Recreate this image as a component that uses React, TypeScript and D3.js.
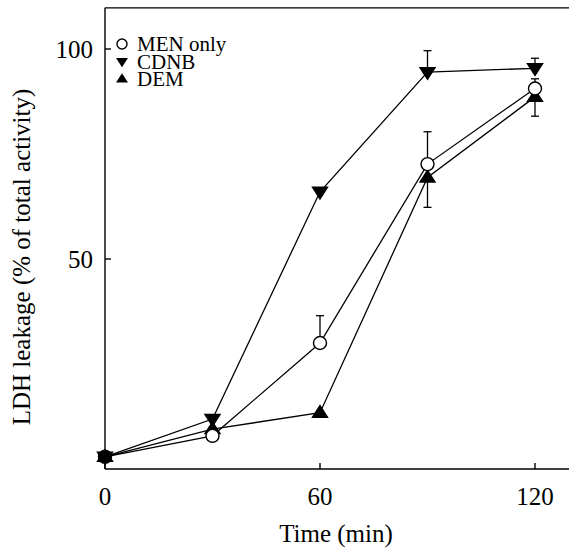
import React from "react";
import * as d3 from "d3";

const times = [0, 30, 60, 90, 120];
const menOnly = [2.9, 7.9, 30, 72.6, 90.6];
const cdnb = [2.9, 11.9, 66, 94.5, 95.4];
const dem = [2.9, 9.5, 13.4, 69.4, 88.6];
// error bars: [time, value, end]
const menErr = [[60, 30, 36.5], [90, 72.6, 80.3], [120, 90.6, 92.9]];
const cdnbErr = [[90, 94.5, 99.6], [120, 95.4, 97.8]];
const demErr = [[90, 69.4, 62.3], [120, 88.6, 84.0]];
const xTicks = [0, 60, 120];
const yTicks = [50, 100];
const legendNames = ["MEN only", "CDNB", "DEM"];

const W = 569, H = 550;
const FONT = "Liberation Serif, Times New Roman, Times, serif";

export default function App() {
  const x = d3.scaleLinear().domain([0, 120]).range([105, 535]);
  const y = d3.scaleLinear().domain([0, 100]).range([469, 49]);
  const xMin = 0, xMax = 134, yMin = 0, yMax = 109.8;
  const line = d3.line<number>().x((_, i) => x(times[i])).y((d) => y(d));
  const tri = (cx: number, cy: number, down: boolean, s = 7.5) =>
    down
      ? `M${cx - s},${cy - s * 0.6}L${cx + s},${cy - s * 0.6}L${cx},${cy + s * 0.95}Z`
      : `M${cx - s},${cy + s * 0.6}L${cx + s},${cy + s * 0.6}L${cx},${cy - s * 0.95}Z`;
  const errs = [...menErr, ...cdnbErr, ...demErr];
  return (
    <svg width={W} height={H} style={{ position: "absolute", left: 0, top: 0, background: "#fff" }}>
      {/* frame */}
      <g stroke="#000" strokeWidth={1.4} fill="none">
        <line x1={x(xMin)} x2={x(xMin)} y1={y(yMin)} y2={y(yMax)} />
        <line x1={x(xMin)} x2={x(xMax)} y1={y(yMin)} y2={y(yMin)} />
        <line x1={x(xMin)} x2={x(xMax)} y1={y(yMax)} y2={y(yMax)} />
        {yTicks.map((t) => (
          <line key={t} x1={x(xMin)} x2={x(xMin) + 6} y1={y(t)} y2={y(t)} />
        ))}
        {xTicks.map((t) => (
          <line key={t} x1={x(t)} x2={x(t)} y1={y(yMin)} y2={y(yMin) - 6} />
        ))}
      </g>
      <g style={{ fontFamily: FONT }} fontSize={25} fill="#000">
        {yTicks.map((t) => (
          <text key={t} x={93} y={y(t)} dy="0.35em" textAnchor="end">{t}</text>
        ))}
        {xTicks.map((t) => (
          <text key={t} x={x(t)} y={505} textAnchor="middle">{t}</text>
        ))}
        <text x={336} y={542} textAnchor="middle">Time (min)</text>
        <text transform={`translate(30,257) rotate(-90)`} textAnchor="middle">LDH leakage (% of total activity)</text>
      </g>
      {/* lines */}
      <g stroke="#000" strokeWidth={1.3} fill="none">
        <path d={line(menOnly) || ""} />
        <path d={line(cdnb) || ""} />
        <path d={line(dem) || ""} />
        {errs.map(([t, v, e], i) => (
          <g key={i}>
            <line x1={x(t)} x2={x(t)} y1={y(v)} y2={y(e)} />
            <line x1={x(t) - 4} x2={x(t) + 4} y1={y(e)} y2={y(e)} />
          </g>
        ))}
      </g>
      {/* markers */}
      <g stroke="#000" strokeWidth={1.4}>
        {cdnb.map((v, i) => (
          <path key={"c" + i} d={tri(x(times[i]), y(v), true)} fill="#000" />
        ))}
        {dem.map((v, i) => (
          <path key={"d" + i} d={tri(x(times[i]), y(v), false)} fill="#000" />
        ))}
        {menOnly.map((v, i) => (
          <circle key={"m" + i} cx={x(times[i])} cy={y(v)} r={6.5} fill={i === 0 ? "#000" : "#fff"} />
        ))}
      </g>
      {/* legend */}
      <g style={{ fontFamily: FONT }} fontSize={21} fill="#000">
        {legendNames.map((n, i) => {
          const cy = 44 + i * 17.5;
          const cx = 122;
          return (
            <g key={n}>
              {i === 0 && <circle cx={cx} cy={cy} r={5} fill="#fff" stroke="#000" strokeWidth={1.4} />}
              {i === 1 && <path d={tri(cx, cy, true, 6)} fill="#000" />}
              {i === 2 && <path d={tri(cx, cy, false, 6)} fill="#000" />}
              <text x={137} y={cy} dy="0.35em">{n}</text>
            </g>
          );
        })}
      </g>
    </svg>
  );
}
